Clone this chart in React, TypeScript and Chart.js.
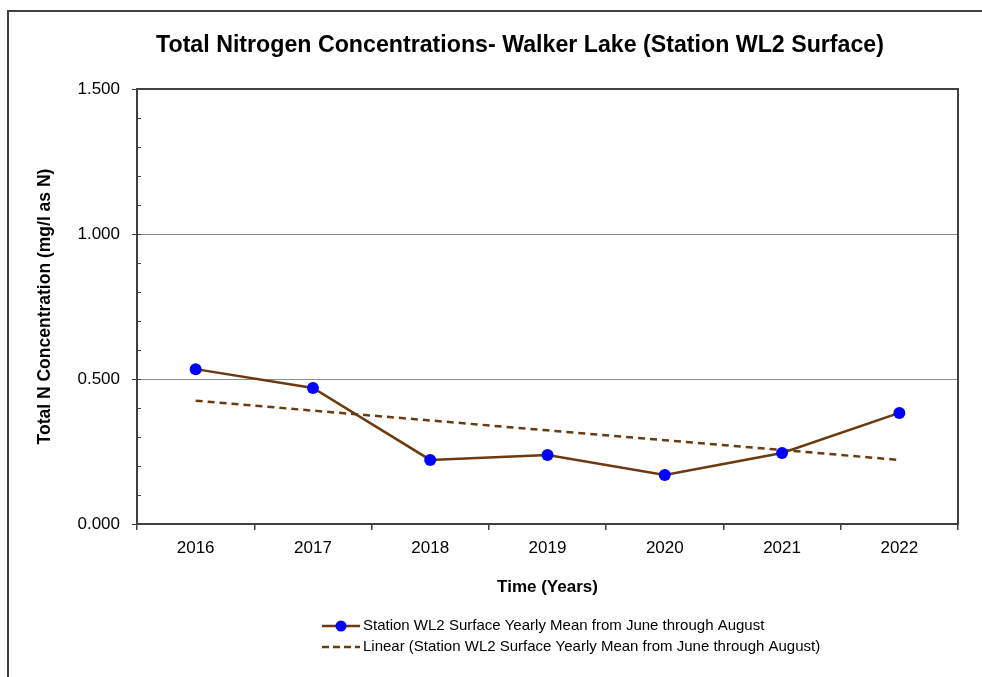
import React, { useEffect, useRef } from 'react';
import { Chart, registerables } from 'chart.js';

Chart.register(...registerables);

const TITLE = 'Total Nitrogen Concentrations- Walker Lake (Station WL2 Surface)';
const Y_TITLE = 'Total N Concentration (mg/l as N)';
const X_TITLE = 'Time (Years)';
const years = ['2016', '2017', '2018', '2019', '2020', '2021', '2022'];
const meanValues = [0.534, 0.469, 0.221, 0.238, 0.169, 0.245, 0.383];
const trendValues = [0.425, 0.391, 0.357, 0.323, 0.289, 0.255, 0.221];
const seriesLabel = 'Station WL2 Surface Yearly Mean from June through August';
const trendLabel = 'Linear (Station WL2 Surface Yearly Mean from June through August)';
const yTicks = [0, 0.5, 1.0, 1.5];
const yMinorStep = 0.1;

const FONT = '"Liberation Sans", Arial, sans-serif';
const FRAME = '#404040';
const BROWN = '#6B3A0E';
const BLUE = '#0000FF';

const framePlugin = {
  id: 'frame',
  beforeDraw(chart: any) {
    const ctx = chart.ctx;
    ctx.save();
    ctx.fillStyle = '#fff';
    ctx.fillRect(0, 0, chart.width, chart.height);
    ctx.strokeStyle = FRAME;
    ctx.lineWidth = 2;
    ctx.beginPath();
    ctx.moveTo(8, chart.height);
    ctx.lineTo(8, 11);
    ctx.lineTo(chart.width, 11);
    ctx.stroke();
    // chart title
    ctx.fillStyle = '#000';
    ctx.font = `bold 23.2px ${FONT}`;
    ctx.textAlign = 'center';
    ctx.textBaseline = 'middle';
    ctx.fillText(TITLE, 520, 46);
    ctx.restore();
  },
  beforeDatasetsDraw(chart: any) {
    const ctx = chart.ctx;
    const a = chart.chartArea;
    const y = chart.scales.y;
    ctx.save();
    ctx.strokeStyle = FRAME;
    ctx.lineWidth = 1;
    for (let v = 0; v <= 1.5 + 1e-9; v += yMinorStep) {
      const py = Math.round(y.getPixelForValue(v)) + 0.5;
      ctx.beginPath();
      ctx.moveTo(a.left, py);
      ctx.lineTo(a.left + 4, py);
      ctx.stroke();
    }
    ctx.lineWidth = 2;
    ctx.strokeRect(a.left, a.top, a.right - a.left, a.bottom - a.top);
    ctx.restore();
  },
};

const legendPlugin = {
  id: 'customLegend',
  afterDraw(chart: any) {
    const ctx = chart.ctx;
    ctx.save();
    const x0 = 322;
    const x1 = 360;
    const tx = 363;
    chart.data.datasets.forEach((ds: any, i: number) => {
      const yy = 626 + i * 21;
      ctx.strokeStyle = ds.borderColor;
      ctx.lineWidth = 2.5;
      ctx.setLineDash(ds.borderDash ? [7, 4] : []);
      ctx.beginPath();
      ctx.moveTo(x0, yy);
      ctx.lineTo(x1, yy);
      ctx.stroke();
      ctx.setLineDash([]);
      if (ds.pointRadius > 0) {
        ctx.fillStyle = ds.pointBackgroundColor;
        ctx.beginPath();
        ctx.arc((x0 + x1) / 2, yy, 5.5, 0, Math.PI * 2);
        ctx.fill();
      }
      ctx.fillStyle = '#000';
      ctx.font = `15px ${FONT}`;
      ctx.textBaseline = 'middle';
      ctx.textAlign = 'left';
      ctx.fillText(ds.label, tx, yy);
    });
    ctx.restore();
  },
};

export default function App() {
  const ref = useRef<HTMLCanvasElement | null>(null);
  useEffect(() => {
    if (!ref.current) return;
    const chart = new Chart(ref.current, {
      type: 'line',
      data: {
        labels: years,
        datasets: [
          {
            label: seriesLabel,
            data: meanValues,
            borderColor: BROWN,
            borderWidth: 2.5,
            pointBackgroundColor: BLUE,
            pointBorderColor: BLUE,
            pointRadius: 6,
            pointBorderWidth: 0,
            tension: 0,
          },
          {
            label: trendLabel,
            data: trendValues,
            borderColor: BROWN,
            borderWidth: 2.5,
            borderDash: [7, 5],
            pointRadius: 0,
            tension: 0,
          },
        ],
      },
      options: {
        responsive: false,
        animation: false,
        layout: { padding: { top: 89, left: 0, right: 24, bottom: 73 } },
        plugins: {
          legend: { display: false },
          tooltip: { enabled: false },
          title: { display: false },
        },
        scales: {
          x: {
            offset: true,
            grid: {
              offset: true,
              drawOnChartArea: false,
              drawTicks: true,
              tickLength: 6,
              tickColor: FRAME,
              lineWidth: 1.5,
            },
            border: { display: true, color: FRAME, width: 2 },
            ticks: {
              color: '#000',
              font: { family: FONT, size: 17 },
              padding: 8,
              maxRotation: 0,
            },
            title: {
              display: true,
              text: X_TITLE,
              color: '#000',
              font: { family: FONT, size: 17, weight: 'bold' },
              padding: { top: 0, bottom: 6 },
            },
            afterFit: (s: any) => {
              s.height = 80;
            },
          },
          y: {
            min: 0,
            max: 1.5,
            afterBuildTicks: (s: any) => {
              s.ticks = yTicks.map((v) => ({ value: v }));
            },
            ticks: {
              color: '#000',
              font: { family: FONT, size: 17 },
              padding: 12,
              callback: (v: any) => Number(v).toFixed(3),
            },
            grid: {
              color: '#8c8c8c',
              lineWidth: 1,
              drawTicks: true,
              tickLength: 5,
              tickColor: FRAME,
            },
            border: { display: true, color: FRAME, width: 2 },
            title: {
              display: true,
              text: Y_TITLE,
              color: '#000',
              font: { family: FONT, size: 17.5, weight: 'bold' },
              padding: { top: 35, bottom: 0 },
            },
            afterFit: (s: any) => {
              s.width = 137;
            },
          },
        },
      },
      plugins: [framePlugin, legendPlugin],
    } as any);
    return () => chart.destroy();
  }, []);
  return (
    <div style={{ position: 'absolute', left: 0, top: 0, width: 982, height: 677 }}>
      <canvas ref={ref} width={982} height={677} style={{ width: 982, height: 677, display: 'block' }} />
    </div>
  );
}
